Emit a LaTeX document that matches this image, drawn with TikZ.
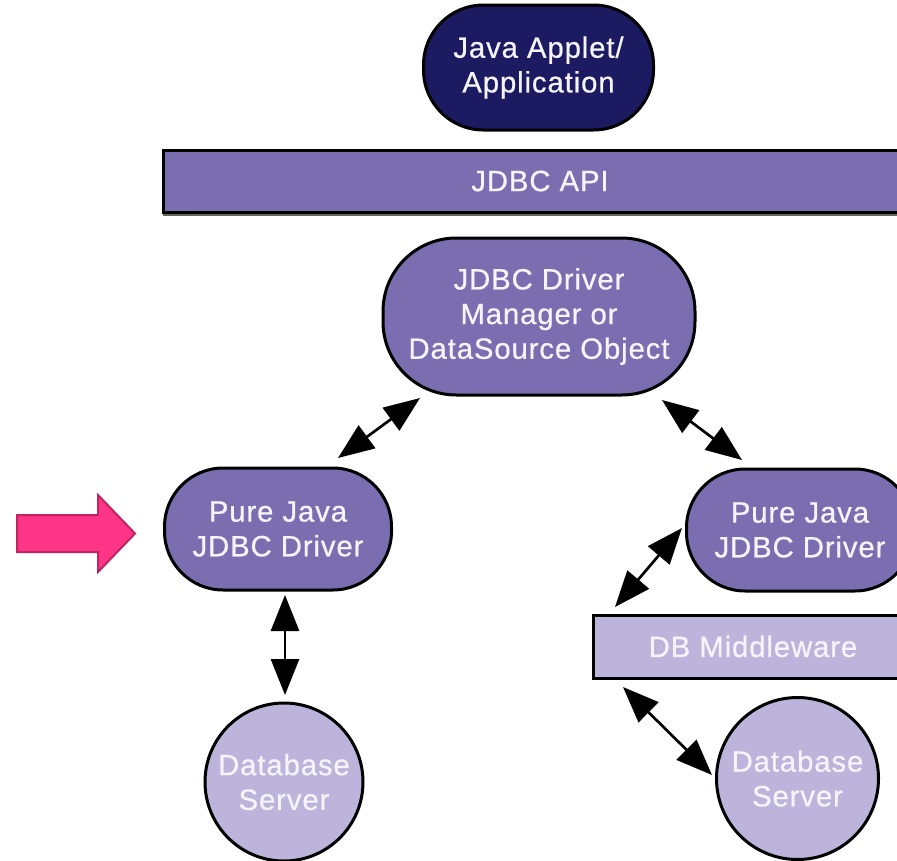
\documentclass[tikz,border=0pt]{standalone}
\usepackage{fontspec}
\setmainfont{Liberation Sans}[LetterSpace=3, FakeBold=0.6]
\usetikzlibrary{arrows.meta,calc}
\definecolor{navy}{HTML}{1C1A60}
\definecolor{midpurple}{HTML}{7B6EB0}
\definecolor{lightlav}{HTML}{BCB4DA}
\definecolor{pinkfill}{HTML}{FF3588}
\definecolor{pinkedge}{HTML}{C2245F}
\definecolor{txtwhite}{HTML}{F6F4FB}
\definecolor{shadowolive}{HTML}{66655A}
\begin{document}
\begin{tikzpicture}[x=0.75pt,y=-0.75pt,
  lbl/.style={text=txtwhite, font=\fontsize{22}{26}\selectfont, align=center, inner sep=0pt},
  pill/.style={lbl, draw=black, line width=2.25pt, rectangle},
  barbox/.style={lbl, draw=black, line width=2.25pt, rectangle},
  dbnode/.style={lbl, circle, draw=black, line width=2.25pt, fill=lightlav},
  dbl/.style={line width=2pt, {Triangle[length=27pt,width=21pt]}-{Triangle[length=27pt,width=21pt]}}
]
\useasboundingbox (0,0) rectangle (897,861);
\clip (0,0) rectangle (897,861);

% nodes
\node[pill, fill=navy, rounded corners=45pt, minimum width=172.5pt, minimum height=93.75pt] (app) at (538.5,67.5) {Java Applet/\\Application};
\draw[shadowolive, line width=2.5pt] (163,214.5) -- (897,214.5);
\node[barbox, fill=midpurple, minimum width=565.5pt, minimum height=46.5pt] (api) at (540,181) {JDBC API};
\node[pill, fill=midpurple, rounded corners=55pt, minimum width=234pt, minimum height=117.75pt] (mgr) at (539,316.5) {JDBC Driver\\Manager or\\DataSource Object};
\node[pill, fill=midpurple, rounded corners=44pt, minimum width=170.25pt, minimum height=91.5pt] (ldrv) at (278,529) {Pure Java\\JDBC Driver};
\node[pill, fill=midpurple, rounded corners=44pt, minimum width=170.25pt, minimum height=91.5pt] (rdrv) at (800,530) {Pure Java\\JDBC Driver};
\node[barbox, fill=lightlav, minimum width=240pt, minimum height=47.25pt] (mw) at (753,646.5) {DB Middleware};
\node[dbnode, minimum size=118.5pt] (ldb) at (284,782) {Database\\Server};
\node[dbnode, minimum size=121.5pt] (rdb) at (797.5,778.5) {Database\\Server};

% pink pointer arrow
\filldraw[fill=pinkfill, draw=pinkedge, line width=1.5pt, line join=miter]
  (17,515) -- (98,515) -- (98,495) -- (135,533.5) -- (98,572) -- (98,552) -- (17,552) -- cycle;

% connectors
\draw[dbl] ($(ldrv)+(60,-71)$) -- ($(mgr)+(-119,81.5)$);
\draw[dbl] ($(mgr)+(123,83.5)$) -- ($(rdrv)+(-58,-70)$);
\draw[dbl] ($(ldrv)+(7,66)$) -- ($(ldb)+(1,-87)$);
\draw[dbl] ($(rdrv)+(-118,-2)$) -- ($(mw)+(-138,-39.5)$);
\draw[dbl] ($(mw)+(-130,40.5)$) -- ($(rdb)+(-85.5,-3.5)$);
\end{tikzpicture}
\end{document}
